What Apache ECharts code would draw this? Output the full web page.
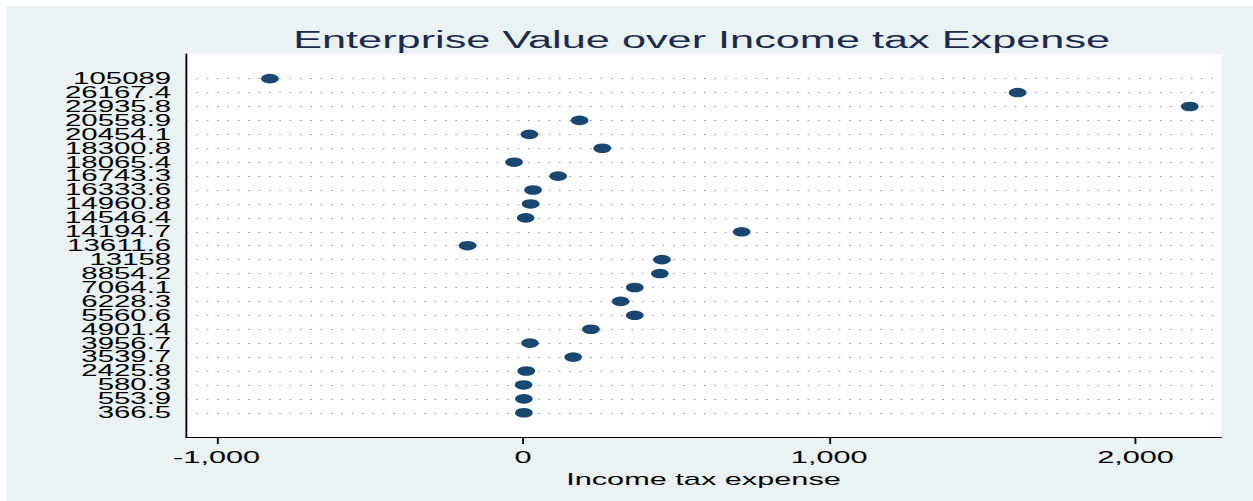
<!DOCTYPE html>
<html><head><meta charset="utf-8">
<script src="https://cdn.jsdelivr.net/npm/echarts@6/dist/echarts.min.js"></script>
<style>
html,body{margin:0;padding:0;background:#ffffff;overflow:hidden;width:1253px;height:501px;}
#chart{position:absolute;left:6px;top:6px;height:495px;transform-origin:0 0;}
</style></head><body>
<div id="chart"></div>
<script>
// Data
const categories = ["105089","26167.4","22935.8","20558.9","20454.1","18300.8","18065.4","16743.3","16333.6","14960.8","14546.4","14194.7","13611.6","13158","8854.2","7064.1","6228.3","5560.6","4901.4","3956.7","3539.7","2425.8","580.3","553.9","366.5"];
const values = [-826,1615,2177,185,21,259,-29,115,33,25,9,714,-181,454,447,365,319,365,222,23,164,11,2,3,3];
const xTicks = [-1000,0,1000,2000];
const titleText = "Enterprise Value over Income tax Expense";
const xName = "Income tax expense";

// The reference is horizontally stretched; draw narrow and stretch the whole picture.
const S = 1.85;
const OX = 6, OY = 6;
const W = (1253 - OX) / S;
const el = document.getElementById('chart');
el.style.width = W + 'px';
el.style.transform = 'scaleX(' + S + ')';

const gridLeft = (186 - OX) / S;
const gridWidth = (1221 - 186) / S;
const gridTop = 54 - OY;
const gridHeight = 437 - 54;

const rowIdx = categories.map((c, i) => i);
const evenIdx = rowIdx.filter(i => i % 2 === 0);
const oddIdx = rowIdx.filter(i => i % 2 === 1);

const yLabelStyle = {
  margin: 8,
  fontFamily: 'Liberation Sans', fontSize: 15.9, lineHeight: 13, color: '#000',
  formatter: v => categories[Math.round(v)]
};

const chart = echarts.init(el, null, {renderer: 'svg'});
chart.setOption({
  backgroundColor: '#eaf2f3',
  animation: false,
  title: {
    text: titleText,
    left: gridLeft + gridWidth / 2 - 6,
    textAlign: 'center',
    top: 17,
    textStyle: {fontFamily: 'Liberation Sans', fontWeight: 'normal', fontSize: 23.4, color: '#1a2b4e'}
  },
  grid: {
    left: gridLeft, top: gridTop, width: gridWidth, height: gridHeight,
    show: true, backgroundColor: '#ffffff', borderWidth: 0, containLabel: false
  },
  xAxis: {
    type: 'value',
    min: -1100, max: 2279,
    name: xName,
    nameLocation: 'middle',
    nameGap: 28,
    nameTextStyle: {fontFamily: 'Liberation Sans', fontSize: 16.6, color: '#000'},
    axisLine: {show: true, onZero: false, lineStyle: {color: '#000', width: 1}},
    axisTick: {show: true, customValues: xTicks, length: 7, lineStyle: {color: '#000', width: 1}},
    axisLabel: {
      customValues: xTicks, margin: 12,
      fontFamily: 'Liberation Sans', fontSize: 16.6, color: '#000',
      formatter: v => Number(v).toLocaleString('en-US')
    },
    splitLine: {show: false}
  },
  yAxis: [{
    type: 'value',
    position: 'left',
    inverse: true,
    min: -1.77, max: 25.74,
    axisLine: {show: true, onZero: false, lineStyle: {color: '#000', width: 1}},
    axisTick: {show: false, customValues: rowIdx},
    axisLabel: Object.assign({customValues: evenIdx, showMinLabel: true, showMaxLabel: true}, yLabelStyle),
    splitLine: {show: true, lineStyle: {color: '#9a9a9a', width: 1, type: [0.9, 4.7]}}
  }, {
    type: 'value',
    position: 'left',
    offset: 0,
    inverse: true,
    min: -1.77, max: 25.74,
    axisLine: {show: false},
    axisTick: {show: false, customValues: oddIdx},
    axisLabel: Object.assign({customValues: oddIdx, showMinLabel: true, showMaxLabel: true}, yLabelStyle),
    splitLine: {show: false}
  }],
  series: [{
    type: 'scatter',
    yAxisIndex: 0,
    data: values.map((v, i) => [v, i]),
    symbol: 'circle',
    symbolSize: 9.6,
    itemStyle: {color: '#1a476f', opacity: 1},
    z: 5
  }]
});
</script>
</body></html>
